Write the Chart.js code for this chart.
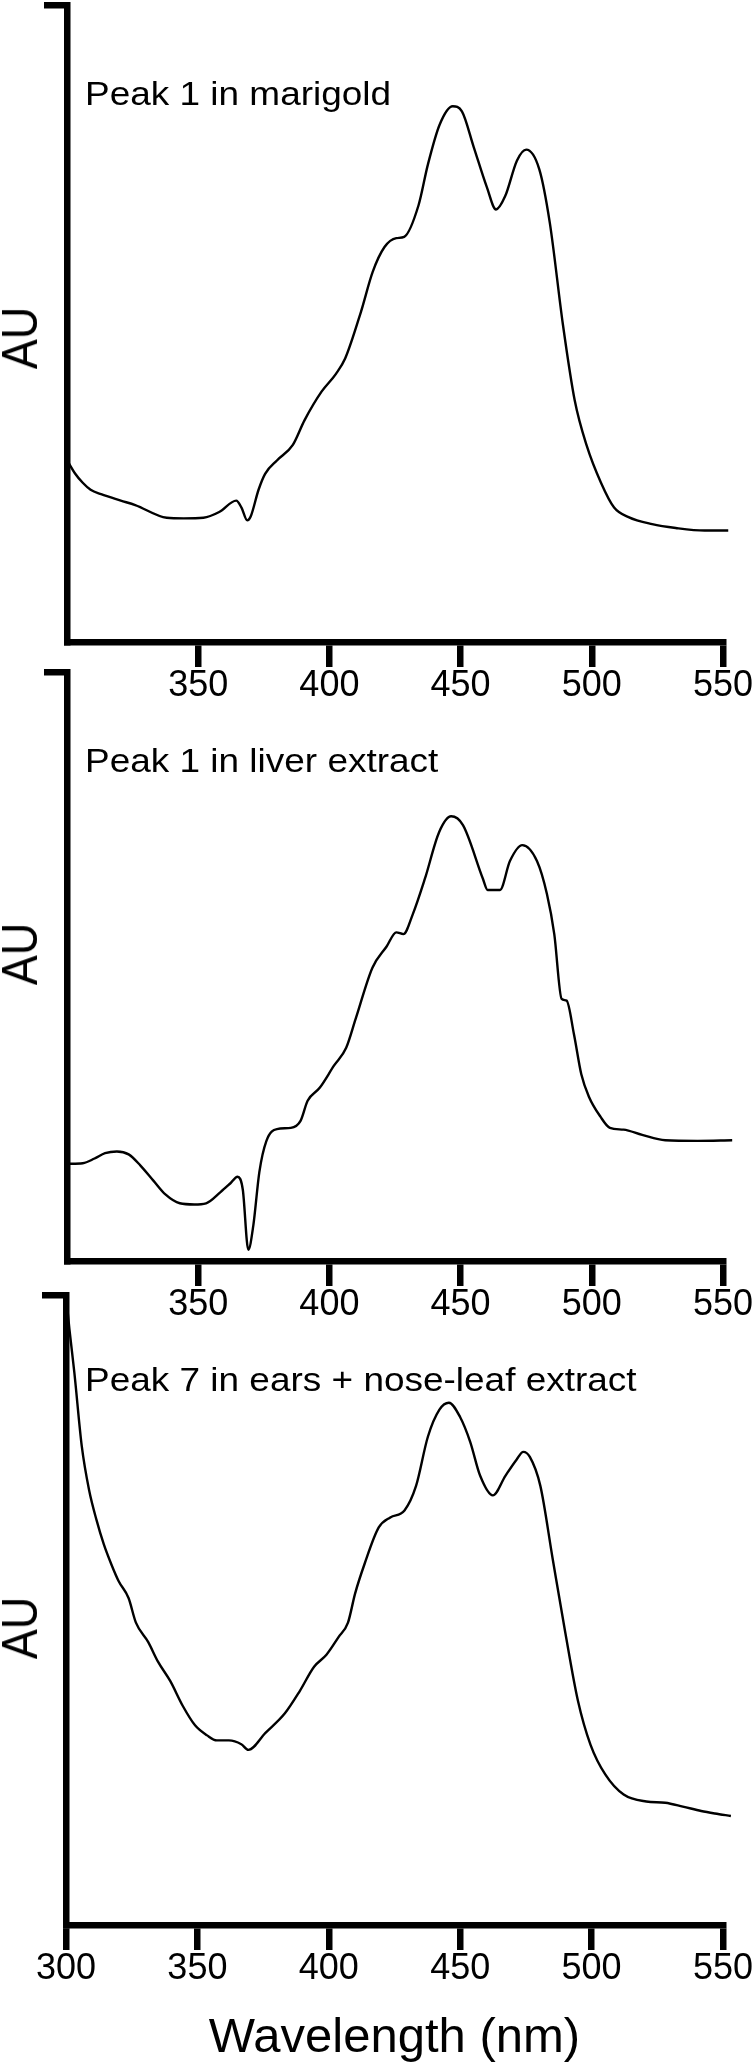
<!DOCTYPE html>
<html>
<head>
<meta charset="utf-8">
<script src="https://cdn.jsdelivr.net/npm/chart.js@4.4.1/dist/chart.umd.min.js"></script>
<style>
  body { margin: 0; background: #fff; }
  #page { position: relative; width: 756px; height: 2069px; overflow: hidden; font-family: 'Liberation Sans', Arial, Helvetica, sans-serif; color: #000; }
  canvas { position: absolute; left: 0; }
  .peak { position: absolute; left: 85px; font-size: 33px; line-height: 1; white-space: nowrap; transform: scaleX(1.12); transform-origin: 0 0; }
  .au { position: absolute; left: 20px; font-size: 50px; line-height: 1; white-space: nowrap; transform: translate(-50%, -50%) rotate(-90deg) scaleX(0.9); }
</style>
</head>
<body>
<div id="page">
  <canvas id="c1" width="756" height="720" style="top:0px"></canvas>
  <canvas id="c2" width="756" height="690" style="top:650px"></canvas>
  <canvas id="c3" width="756" height="789" style="top:1280px"></canvas>

  <div class="peak" style="top:77px">Peak 1 in marigold</div>
  <div class="peak" style="top:744px">Peak 1 in liver extract</div>
  <div class="peak" style="top:1363px">Peak 7 in ears + nose-leaf extract</div>

  <div class="au" style="top:338px">AU</div>
  <div class="au" style="top:954px">AU</div>
  <div class="au" style="top:1628px">AU</div>
</div>

<script>
// === Ejes ===
const xTicksUpper = [350, 400, 450, 500, 550];
const xTicksLower = [300, 350, 400, 450, 500, 550];
const yTicks = [100];

// === Espectros (longitud de onda en nm / absorbancia relativa) ===
const marigoldNm = [300.5, 303, 306, 309, 313, 320.5, 326, 338, 344.5, 352, 358, 364.5, 366.5, 368.7, 370,
  373, 375.5, 380, 386, 390.5, 397, 402.5, 406, 412, 416.5, 421, 425.5, 428.5, 434, 437.5, 442, 447,
  450.5, 455, 460, 463.5, 467, 471.5, 475, 480, 484, 489, 493.5, 498, 503.5, 508.5, 514, 523, 532, 543, 552];
const marigoldAU = [28.2, 26.5, 25, 23.9, 23.2, 22.2, 21.5, 19.5, 19.4, 19.5, 20.4, 22.2, 21.1, 19.1, 19.7,
  23.9, 26.4, 28.5, 30.9, 34.8, 39.3, 42.1, 44.5, 51.8, 58.1, 62, 63.4, 63.6, 68.6, 74.9, 81.2, 84.1,
  83.3, 77.7, 71.4, 67.9, 70, 75.6, 77.3, 74.2, 65.8, 49.8, 37.9, 30.9, 25, 21.1, 19.6, 18.5, 17.9, 17.5, 17.5];

const liverNm = [300.5, 306, 310.5, 314.5, 319, 323.5, 328, 333, 337.5, 343, 348.5, 353, 358.5, 362.3, 365,
  367, 369.1, 371, 373.3, 376, 380, 385.3, 389, 391.7, 396.3, 401.8, 406.4, 410, 416.4, 421.8, 425.5,
  428.2, 431.8, 436.4, 441.8, 446.4, 450.9, 458.5, 460.3, 465, 468.8, 473.5, 479.1, 482.9, 485.7, 488.5,
  490.4, 493.2, 496, 498.9, 503.3, 506.9, 512.1, 519.2, 528, 540.3, 553.5];
const liverAU = [16.5, 16.6, 17.4, 18.3, 18.6, 18.1, 16.2, 13.6, 11.3, 9.8, 9.6, 9.8, 11.7, 13.2, 14.3,
  12.1, 1.9, 6.0, 15.1, 20.4, 22.4, 22.6, 23.8, 27.2, 29.4, 33.2, 36.2, 41.1, 49.8, 53.4, 55.8,
  55.5, 58.9, 64.9, 72.8, 75.5, 74, 64.9, 63, 63, 67.9, 70.6, 67.9, 62.3, 55.5, 44.5,
  44.2, 38.5, 31.7, 27.9, 24.5, 22.6, 22.3, 21.4, 20.5, 20.4, 20.5];

const earsNm = [300, 301.3, 303.2, 306, 308.8, 311.6, 314.4, 317.2, 320, 323.8, 326.6, 331.3, 335, 339.7,
  344.4, 349.1, 353.7, 357.4, 362, 366.7, 369.4, 375.9, 383.3, 388.9, 394.4, 399.1, 403.7, 407.3, 410,
  413.6, 419, 423.4, 428.8, 433.2, 437.7, 442.1, 445.7, 450, 453.8, 457.6, 462.4, 467.2, 471.5, 474, 476.5,
  480.5, 485.2, 490, 494.8, 499.6, 505.2, 512.2, 520.8, 528, 534.7, 541.7, 546.9, 553];
const earsAU = [100, 94.6, 87.6, 76, 69, 64.3, 60.4, 57.3, 54.6, 51.9, 48, 44.9, 41.8, 38.7,
  34.8, 31.7, 30.1, 29.3, 29.3, 28.7, 27.8, 30.5, 33.6, 37.1, 41, 42.9, 45.7, 48, 52.6,
  57.3, 63.1, 64.7, 65.8, 69.7, 77.5, 81.8, 82.9, 80.6, 76.7, 71.3, 68.2, 71.3, 73.9, 75.1, 74.3,
  69.7, 58.1, 46.4, 35.6, 28.6, 23.9, 20.7, 19.6, 19.4, 18.8, 18.1, 17.7, 17.3];

const FONT = "'Liberation Sans', Arial, Helvetica, sans-serif";

// === Un panel = un grafico ===
function renderPanel(id, nm, au, xTicks, cfg) {
  const ctx = document.getElementById(id).getContext("2d");
  return new Chart(ctx, {
    type: 'line',
    data: {
      datasets: [{
        data: nm.map((x, i) => ({ x: x, y: au[i] })),
        borderColor: '#000',
        borderWidth: 2.4,
        pointRadius: 0,
        fill: false,
        cubicInterpolationMode: 'monotone',
        clip: false
      }]
    },
    options: {
      responsive: false,
      animation: false,
      events: [],
      layout: { padding: { top: cfg.top, right: 33, bottom: 0, left: 0 } },
      plugins: { legend: { display: false }, tooltip: { enabled: false } },
      scales: {
        x: {
          type: 'linear',
          min: 300,
          max: 550,
          afterBuildTicks: axis => { axis.ticks = xTicks.map(v => ({ value: v })); },
          afterFit: axis => { axis.height = cfg.xHeight; },
          border: { display: true, width: 6.5, color: '#000' },
          grid: { drawOnChartArea: false, drawTicks: true, tickLength: 25, lineWidth: 6.5, color: '#000' },
          ticks: {
            autoSkip: false, maxRotation: 0, padding: 1, color: '#000',
            font: { family: FONT, size: 36, lineHeight: 1 },
            callback: v => String(v)
          },
          title: cfg.xTitle ? {
            display: true, text: cfg.xTitle, color: '#000',
            font: { family: FONT, size: 49, lineHeight: 1.2 },
            padding: { top: 0, bottom: 1 }
          } : { display: false }
        },
        y: {
          min: 0,
          max: 100,
          afterBuildTicks: axis => { axis.ticks = yTicks.map(v => ({ value: v })); },
          afterFit: axis => { axis.width = cfg.left; },
          border: { display: true, width: 6.5, color: '#000' },
          grid: { drawOnChartArea: false, drawTicks: true, tickLength: cfg.capLength, lineWidth: 6.5, color: '#000' },
          ticks: { display: false }
        }
      }
    }
  });
}

renderPanel("c1", marigoldNm, marigoldAU, xTicksUpper, { top: 5, xHeight: 78, left: 67, capLength: 23 });
renderPanel("c2", liverNm, liverAU, xTicksUpper, { top: 22, xHeight: 79, left: 67, capLength: 23 });
renderPanel("c3", earsNm, earsAU, xTicksLower, { top: 15, xHeight: 144, left: 66, capLength: 24, xTitle: 'Wavelength (nm)' });
</script>
</body>
</html>
